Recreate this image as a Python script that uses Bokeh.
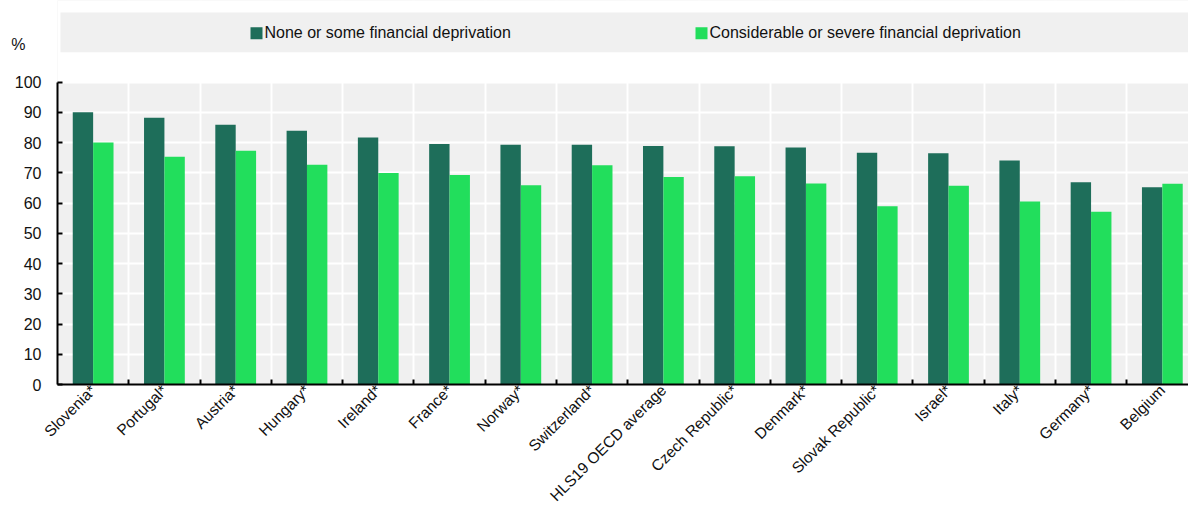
import math
from bokeh.plotting import figure
from bokeh.models import Range1d, FixedTicker, LinearAxis
from bokeh.core.properties import value
from bokeh.embed import file_html
from bokeh.resources import INLINE

# ---------------- data ----------------
countries = ["Slovenia*", "Portugal*", "Austria*", "Hungary*", "Ireland*", "France*",
             "Norway*", "Switzerland*", "HLS19 OECD average", "Czech Republic*",
             "Denmark*", "Slovak Republic*", "Israel*", "Italy*", "Germany*", "Belgium"]
none_some = [90.0, 88.2, 85.9, 83.9, 81.7, 79.5, 79.3, 79.3, 78.9, 78.8,
             78.4, 76.6, 76.5, 74.1, 66.9, 65.2]
considerable = [80.0, 75.3, 77.3, 72.7, 69.9, 69.3, 65.9, 72.5, 68.6, 68.9,
                66.5, 58.9, 65.7, 60.5, 57.1, 66.4]
series_names = ["None or some financial deprivation",
                "Considerable or severe financial deprivation"]
y_ticks = [0, 10, 20, 30, 40, 50, 60, 70, 80, 90, 100]
unit_label = "%"

# ---------------- style ----------------
FONT = "Liberation Sans"
FS = "16px"
FS_X = "15.5px"
DARK = "#1e6e5a"
LIGHT = "#22de5c"
GRAY = "#f0f0f0"
TXT = "#111111"

W, H = 1188, 513
LEFT, BOTTOM = 57, 127
frame_w = W - LEFT
frame_h = H - BOTTOM
cat_px = 71.28
x0 = -0.5
x1 = x0 + frame_w / cat_px
px_per_unit = 3.04
y1 = frame_h / px_per_unit


def xd(px):
    return x0 + (px - LEFT) / cat_px


def yd(py):
    return (frame_h - py) / px_per_unit


p = figure(width=W, height=H, x_range=Range1d(x0, x1), y_range=Range1d(0, y1),
           output_backend="svg", toolbar_location=None,
           min_border_left=LEFT, min_border_right=0, min_border_top=0,
           min_border_bottom=BOTTOM, background_fill_color=GRAY,
           border_fill_color="white", outline_line_color=None)

# white area above the plot, then legend box
p.quad(left=[x0], right=[x1], bottom=[y_ticks[-1]], top=[y1],
       fill_color="white", line_color=None)
p.quad(left=[xd(60)], right=[x1], bottom=[yd(52)], top=[yd(12)],
       fill_color=GRAY, line_color=None)

idx = list(range(len(countries)))
bw = 0.286
p.vbar(x=[i - bw / 2 for i in idx], top=none_some, width=bw,
       fill_color=DARK, line_color=None)
p.vbar(x=[i + bw / 2 for i in idx], top=considerable, width=bw,
       fill_color=LIGHT, line_color=None)

boundaries = [i + 0.5 for i in idx[:-1]]

# grids
p.xgrid.ticker = FixedTicker(ticks=boundaries)
p.xgrid.grid_line_color = "white"
p.xgrid.grid_line_width = 2
p.ygrid.ticker = FixedTicker(ticks=y_ticks[1:])
p.ygrid.grid_line_color = "white"
p.ygrid.grid_line_width = 2

# x axis
xa = p.xaxis[0]
xa.ticker = FixedTicker(ticks=idx, minor_ticks=boundaries)
xa.major_label_overrides = {i: c for i, c in zip(idx, countries)}
xa.major_tick_in = 0
xa.major_tick_out = 0
xa.minor_tick_in = 5
xa.minor_tick_out = 0
xa.minor_tick_line_color = "black"
xa.minor_tick_line_width = 2
xa.axis_line_color = "black"
xa.axis_line_width = 2
xa.major_label_orientation = math.pi / 4
xa.major_label_text_font = FONT
xa.major_label_text_font_size = FS_X
xa.major_label_text_color = TXT
xa.major_label_standoff = 3

# y axis
ya = p.yaxis[0]
ya.bounds = (0, 100)
ya.ticker = FixedTicker(ticks=y_ticks)
ya.major_tick_in = 5
ya.major_tick_out = 0
ya.minor_tick_line_color = None
ya.major_tick_line_color = "black"
ya.major_tick_line_width = 2
ya.axis_line_color = "black"
ya.axis_line_width = 2
ya.major_label_text_font = FONT
ya.major_label_text_font_size = FS
ya.major_label_text_color = TXT
ya.major_label_standoff = 16

# unit label as a second (line-less) left axis, pulled inwards
pct_y = 112.5
ua = LinearAxis(ticker=FixedTicker(ticks=[pct_y]),
                major_label_overrides={pct_y: unit_label},
                axis_line_color=None, major_tick_line_color=None,
                minor_tick_line_color=None, major_label_standoff=-20,
                major_label_text_font=FONT, major_label_text_font_size=FS,
                major_label_text_color=TXT)
p.add_layout(ua, "left")

# legend
sq_px = [256, 701]
tx_px = [264, 709]
for name, col, sx, tx in zip(series_names, [DARK, LIGHT], sq_px, tx_px):
    p.scatter(x=[xd(sx)], y=[yd(33)], marker="square", size=12,
              fill_color=col, line_color=None)
    p.text(x=[xd(tx)], y=[yd(32)], text=[name], text_baseline="middle",
           text_align="left", text_font=value(FONT), text_font_size=FS,
           text_color=TXT)

open("out.html", "w").write(file_html(p, INLINE))
